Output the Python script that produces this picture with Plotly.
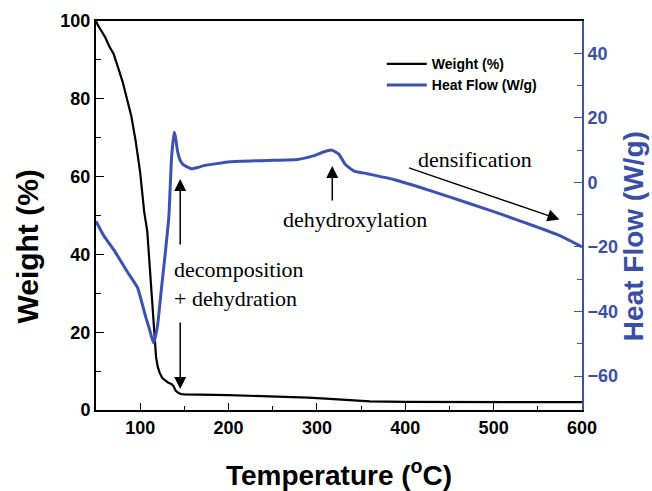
import plotly.graph_objects as go

# ---- data ----
temp_weight = [50, 52, 56, 60, 65, 70, 75, 80, 85, 90, 95, 100, 104.5, 108, 112, 116, 118,
               120, 122, 125, 128, 132, 136, 138, 140, 143, 146, 150, 200, 250, 290, 310,
               340, 360, 400, 500, 600]
weight_pct = [100, 99, 97.5, 96, 93.5, 91.5, 88, 84.5, 80, 75.5, 69, 61, 51, 46, 33, 19.5, 13.5,
              11.0, 9.6, 8.2, 7.6, 7.0, 6.6, 6.0, 5.0, 4.4, 4.1, 4.0, 3.8, 3.5, 3.2, 2.9,
              2.4, 2.2, 2.1, 2.0, 2.0]

temp_heat = [50, 59, 70, 85, 97, 106, 110, 115, 119.5, 124, 128, 132.5, 135.5, 138.5, 140,
             142.2, 145, 149, 153, 158, 165, 172, 202, 244, 278, 296, 308, 317, 325, 332,
             342, 357, 372, 387, 430, 470, 510, 546, 575, 600]
heat_flow = [-12, -16.6, -20.8, -27.5, -32.6, -41.4, -45, -49.7, -44.6, -33, -23, -10.4, 7.7,
             15.5, 14, 9.8, 7, 5.4, 4.8, 4.2, 4.6, 5.2, 6.4, 6.8, 7.1, 8.2, 9.5, 10.0, 8.7,
             5.6, 3.5, 2.7, 1.8, 0.9, -2.7, -6.3, -10, -13.5, -16.5, -20]

x_ticks = [100, 200, 300, 400, 500, 600]
y_ticks = [0, 20, 40, 60, 80, 100]
y2_ticks = [-60, -40, -20, 0, 20, 40]

BLUE = "#3c51b0"
BLUE_TXT = "#3a4ea8"
SANS = "Liberation Sans, Arial, sans-serif"
SERIF = "Liberation Serif, Times New Roman, serif"

fig = go.Figure()
fig.add_trace(go.Scatter(x=temp_weight, y=weight_pct, mode="lines", name="Weight (%)",
                         line=dict(color="black", width=2.2), yaxis="y"))
fig.add_trace(go.Scatter(x=temp_heat, y=heat_flow, mode="lines", name="Heat Flow (W/g)",
                         line=dict(color=BLUE, width=3, shape="spline", smoothing=0.4), yaxis="y2"))

tickfont = dict(family=SANS, size=18, color="black", weight="bold")

fig.update_layout(
    width=652, height=491,
    margin=dict(l=96, r=70, t=21, b=81, autoexpand=False),
    paper_bgcolor="white", plot_bgcolor="white",
    showlegend=True,
    legend=dict(x=0.588, y=0.93, xanchor="left", yanchor="top",
                bgcolor="rgba(0,0,0,0)", itemwidth=40, tracegroupgap=0,
                font=dict(family=SANS, size=14, color="black", weight="bold")),
    xaxis=dict(range=[50, 600], tickvals=x_ticks, ticks="inside", ticklen=7, tickwidth=1.2,
               tickcolor="black", showline=True, linecolor="black", linewidth=2,
               mirror=True, showgrid=False, zeroline=False, tickfont=tickfont,
               automargin=False,
               minor=dict(tickvals=[150, 250, 350, 450, 550], ticks="inside", ticklen=4,
                          tickcolor="black", showgrid=False),
               title=dict(text="Temperature (<sup>o</sup>C)", standoff=33,
                          font=dict(family=SANS, size=28, color="black", weight="bold"))),
    yaxis=dict(range=[0, 100], tickvals=y_ticks, ticks="inside", ticklen=8, tickwidth=1.2,
               tickcolor="black", showline=True, linecolor="black", linewidth=2,
               showgrid=False, zeroline=False, tickfont=tickfont, automargin=False,
               minor=dict(tickvals=[10, 30, 50, 70, 90], ticks="inside", ticklen=5,
                          tickcolor="black", showgrid=False)),
    yaxis2=dict(range=[-70.5, 50], overlaying="y", side="right", anchor="x",
                tickvals=y2_ticks, ticks="inside", ticklen=8, tickwidth=1.2, tickcolor=BLUE,
                showline=True, linecolor=BLUE, linewidth=2, showgrid=False, zeroline=False,
                automargin=False,
                tickfont=dict(family=SANS, size=18, color=BLUE_TXT, weight="bold"),
                minor=dict(tickvals=[-50, -30, -10, 10, 30], ticks="inside", ticklen=5,
                           tickcolor=BLUE, showgrid=False)),
)

# axis titles for the two y axes (placed as in the original figure)
fig.add_annotation(text="Weight (%)", xref="paper", yref="paper", x=-0.14, y=0.42,
                   xanchor="center", yanchor="middle", textangle=-90, showarrow=False,
                   font=dict(family=SANS, size=30, color="black", weight="bold"))
fig.add_annotation(text="Heat Flow (W/g)", xref="paper", yref="paper", x=1.105, y=0.447,
                   xanchor="center", yanchor="middle", textangle=-90, showarrow=False,
                   font=dict(family=SANS, size=28, color=BLUE_TXT, weight="bold"))

afont = dict(family=SERIF, size=22, color="black")
arrow = dict(showarrow=True, arrowhead=2, arrowsize=1.6, arrowwidth=1.5, arrowcolor="black",
             standoff=0, xref="x", yref="y", text="")
fig.add_annotation(x=145.3, y=59.4, ax=0, ay=67, **arrow)
fig.add_annotation(x=145.3, y=5.4, ax=0, ay=-68, **arrow)
fig.add_annotation(x=317.4, y=62.7, ax=0, ay=36, **arrow)
fig.add_annotation(x=574.5, y=49.0, ax=-152, ay=-52, **arrow)

fig.add_annotation(x=136, y=32.5, xref="x", yref="y", xanchor="left", yanchor="middle",
                   align="left", showarrow=False, font=afont,
                   text="decomposition<br>+ dehydration")
fig.add_annotation(x=343, y=49.0, xref="x", yref="y", xanchor="center", yanchor="middle",
                   showarrow=False, font=afont, text="dehydroxylation")
fig.add_annotation(x=479, y=64.4, xref="x", yref="y", xanchor="center", yanchor="middle",
                   showarrow=False, font=afont, text="densification")

fig.write_html("out.html", config={"displayModeBar": False},
               post_script="document.body.style.margin='0';document.body.style.overflow='hidden';")
